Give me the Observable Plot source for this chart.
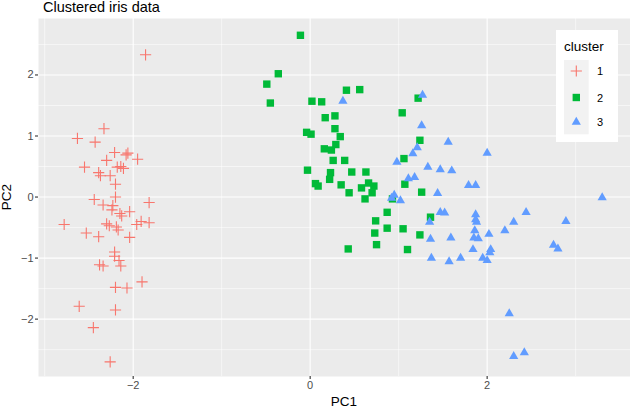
<!DOCTYPE html>
<html>
<head>
<meta charset="utf-8">
<script src="https://cdn.jsdelivr.net/npm/d3@7"></script>
<script src="https://cdn.jsdelivr.net/npm/@observablehq/plot@0.6"></script>
<style>
  html, body { margin: 0; padding: 0; background: white; }
  #wrap { position: relative; width: 630px; height: 411px; overflow: hidden; font-family: "Liberation Sans", Arial, Helvetica, sans-serif; }
  #title { position: absolute; left: 43px; top: -1.5px; font-size: 14.5px; color: #000; line-height: 16px; white-space: nowrap; }
  #chart { position: absolute; left: 0; top: 18px; }
  .axtitle { position: absolute; font-size: 13.5px; color: #000; white-space: nowrap; line-height: 16px; }
  #legend { position: absolute; left: 556px; top: 30px; }
</style>
</head>
<body>
<div id="wrap">
  <div id="title">Clustered iris data</div>
  <div id="chart"></div>
  <div class="axtitle" id="xlab">PC1</div>
  <div class="axtitle" id="ylab">PC2</div>
  <div id="legend"></div>
</div>
<script>
// ---- data ----
const clusters = ["1", "2", "3"];
const colors = ["#F8766D", "#00BA38", "#619CFF"];

const c1x = [-1.86,-2.33,-2.63,-2.43,-2.21,-2.08,-2.06,-1.95,-2.30,-2.55,-2.18,-2.14,-2.11,-2.39,-2.37,-2.26,-2.20,-2.44,-2.20,-1.82,
  -2.34,-2.23,-2.24,-2.15,-2.13,-2.04,-2.78,-2.30,-2.27,-2.19,-2.17,-1.96,-1.91,-1.82,-2.53,-2.39,-2.04,-2.21,-2.21,-2.16,-2.14,-2.38,-2.34,-1.90,-2.20,-2.07,-2.61,-2.20,-2.45,-2.26];
const c1y = [2.33,1.12,0.96,0.90,0.73,0.69,0.72,0.62,0.60,0.49,0.49,0.50,0.47,0.40,0.35,0.35,0.21,-0.04,0.00,-0.09,
  -0.13,-0.14,-0.21,-0.27,-0.31,-0.24,-0.45,-0.44,-0.47,-0.49,-0.54,-0.45,-0.40,-0.42,-0.59,-0.65,-0.66,-0.90,-0.97,-1.04,-1.13,-1.11,-1.13,-1.39,-1.48,-1.49,-1.79,-1.85,-2.14,-2.70];

const c2x = [-0.11,-0.36,-0.49,-0.45,0.41,0.56,0.02,0.13,1.22,1.04,0.17,0.28,0.28,-0.04,0.01,0.34,1.24,0.29,0.16,0.24,0.26,0.39,1.06,-0.03,0.23,0.47,0.63,
  0.22,0.06,0.09,0.35,0.58,0.66,0.72,0.44,0.70,0.62,1.07,1.26,0.93,0.87,0.74,0.87,1.05,0.73,1.24,1.36,0.75,0.43,1.10];
const c2y = [2.65,2.02,1.85,1.54,1.75,1.76,1.57,1.56,1.62,1.38,1.30,1.33,1.12,1.06,1.03,0.99,0.93,0.86,0.79,0.77,0.60,0.60,0.63,0.44,0.40,0.41,0.41,
  0.29,0.22,0.18,0.20,0.15,0.23,0.18,0.07,0.07,-0.03,0.21,0.08,-0.03,-0.25,-0.39,-0.51,-0.52,-0.59,-0.62,-0.33,-0.78,-0.85,-0.86];

const c3x = [0.37,1.27,1.26,1.56,2.00,1.21,1.16,0.98,1.33,1.47,1.60,1.11,1.18,1.79,1.87,1.44,0.95,0.92,1.02,3.30,1.47,1.52,1.87,2.44,
  1.87,1.88,2.30,2.89,2.20,1.86,2.02,1.59,1.85,1.90,2.75,2.80,1.84,2.04,2.03,1.70,1.57,1.95,2.00,
  1.35,1.36,1.37,2.25,2.30,2.42];
const c3y = [1.58,1.68,1.18,0.91,0.73,0.82,0.72,0.58,0.50,0.46,0.44,0.31,0.33,0.20,0.20,0.07,0.04,-0.01,-0.05,0.00,-0.24,-0.25,-0.28,-0.24,
  -0.36,-0.40,-0.40,-0.39,-0.54,-0.54,-0.60,-0.66,-0.66,-0.67,-0.78,-0.84,-0.85,-0.85,-0.90,-0.99,-1.05,-0.99,-1.03,
  -0.40,-0.68,-0.99,-1.90,-2.60,-2.54];

const xTicks = [-2, 0, 2];
const yTicks = [-2, -1, 0, 1, 2];
const xMinor = [-3, -1, 1, 3];
const yMinor = [-2.5, -1.5, -0.5, 0.5, 1.5, 2.5];

// ---- table ----
const toRows = (xs, ys, k) => xs.map((x, i) => ({PC1: x, PC2: ys[i], cluster: k}));
const rows1 = toRows(c1x, c1y, clusters[0]);
const rows2 = toRows(c2x, c2y, clusters[1]);
const rows3 = toRows(c3x, c3y, clusters[2]);

// ---- ggplot-like symbols (size -> radius r = sqrt(size/pi)) ----
const rad = s => Math.sqrt(s / Math.PI);
const symPlus = { draw(ctx, size) { const r = rad(size); ctx.moveTo(-r, 0); ctx.lineTo(r, 0); ctx.moveTo(0, -r); ctx.lineTo(0, r); } };
const symSquare = { draw(ctx, size) { const r = rad(size); ctx.rect(-r, -r, 2 * r, 2 * r); } };
const symTri = { draw(ctx, size) { const r = rad(size); const h = r * Math.sqrt(3); ctx.moveTo(0, -h * 0.6); ctx.lineTo(r, h * 0.4); ctx.lineTo(-r, h * 0.4); ctx.closePath(); } };

const font = '"Liberation Sans", Arial, Helvetica, sans-serif';
const fmt = d3.format("~f");

const chart = Plot.plot({
  width: 630,
  height: 393,
  marginTop: 0,
  marginLeft: 38,
  marginRight: 0,
  marginBottom: 35,
  style: { fontFamily: font, fontSize: "11px", background: "transparent", overflow: "visible" },
  x: { domain: [-3.07, 3.62] },
  y: { domain: [-2.94, 2.925] },
  marks: [
    Plot.frame({ fill: "#EBEBEB", stroke: null }),
    Plot.gridX(xMinor, { stroke: "white", strokeOpacity: 1, strokeWidth: 0.55 }),
    Plot.gridY(yMinor, { stroke: "white", strokeOpacity: 1, strokeWidth: 0.55 }),
    Plot.gridX(xTicks, { stroke: "white", strokeOpacity: 1, strokeWidth: 1.1 }),
    Plot.gridY(yTicks, { stroke: "white", strokeOpacity: 1, strokeWidth: 1.1 }),
    Plot.axisX(xTicks, { tickSize: 3, tickPadding: 2, label: null, tickFormat: fmt, stroke: "#333333", fill: "#4D4D4D", strokeWidth: 1.1 }),
    Plot.axisY(yTicks, { tickSize: 3, tickPadding: 2, label: null, tickFormat: fmt, stroke: "#333333", fill: "#4D4D4D", strokeWidth: 1.1 }),
    Plot.dot(rows1, { x: "PC1", y: "PC2", symbol: symPlus, r: 5.6, fill: "none", stroke: colors[0], strokeWidth: 1.1 }),
    Plot.dot(rows2, { x: "PC1", y: "PC2", symbol: symSquare, r: 3.7, fill: colors[1], stroke: "none" }),
    Plot.dot(rows3, { x: "PC1", y: "PC2", symbol: symTri, r: 4.6, fill: colors[2], stroke: "none" })
  ]
});
document.getElementById("chart").appendChild(chart);

// axis titles
const xlab = document.getElementById("xlab");
xlab.style.left = (343.7 - 13) + "px";
xlab.style.top = "394px";
const ylab = document.getElementById("ylab");
ylab.style.left = "-6px";
ylab.style.top = "189px";
ylab.style.transform = "rotate(-90deg)";

// legend
const lg = d3.select("#legend").append("svg").attr("width", 62).attr("height", 112)
  .style("font-family", font);
lg.append("rect").attr("width", 62).attr("height", 112).attr("fill", "white");
lg.append("text").attr("x", 8).attr("y", 21).attr("font-size", "13.5px").attr("fill", "black").text("cluster");
lg.append("rect").attr("x", 8).attr("y", 30).attr("width", 24.7).attr("height", 74.3).attr("fill", "#F2F2F2");
const keyY = [41, 67.5, 91.5];
const syms = [symPlus, symSquare, symTri];
const rs = [5.6, 3.7, 4.6];
clusters.forEach((k, i) => {
  const p = d3.path();
  syms[i].draw(p, Math.PI * rs[i] * rs[i]);
  const el = lg.append("path").attr("d", p.toString()).attr("transform", `translate(20.3,${keyY[i]})`);
  if (i === 0) el.attr("fill", "none").attr("stroke", colors[i]).attr("stroke-width", 1.1);
  else el.attr("fill", colors[i]);
  lg.append("text").attr("x", 41).attr("y", keyY[i] + 4).attr("font-size", "11px").attr("fill", "black").text(k);
});
</script>
</body>
</html>
